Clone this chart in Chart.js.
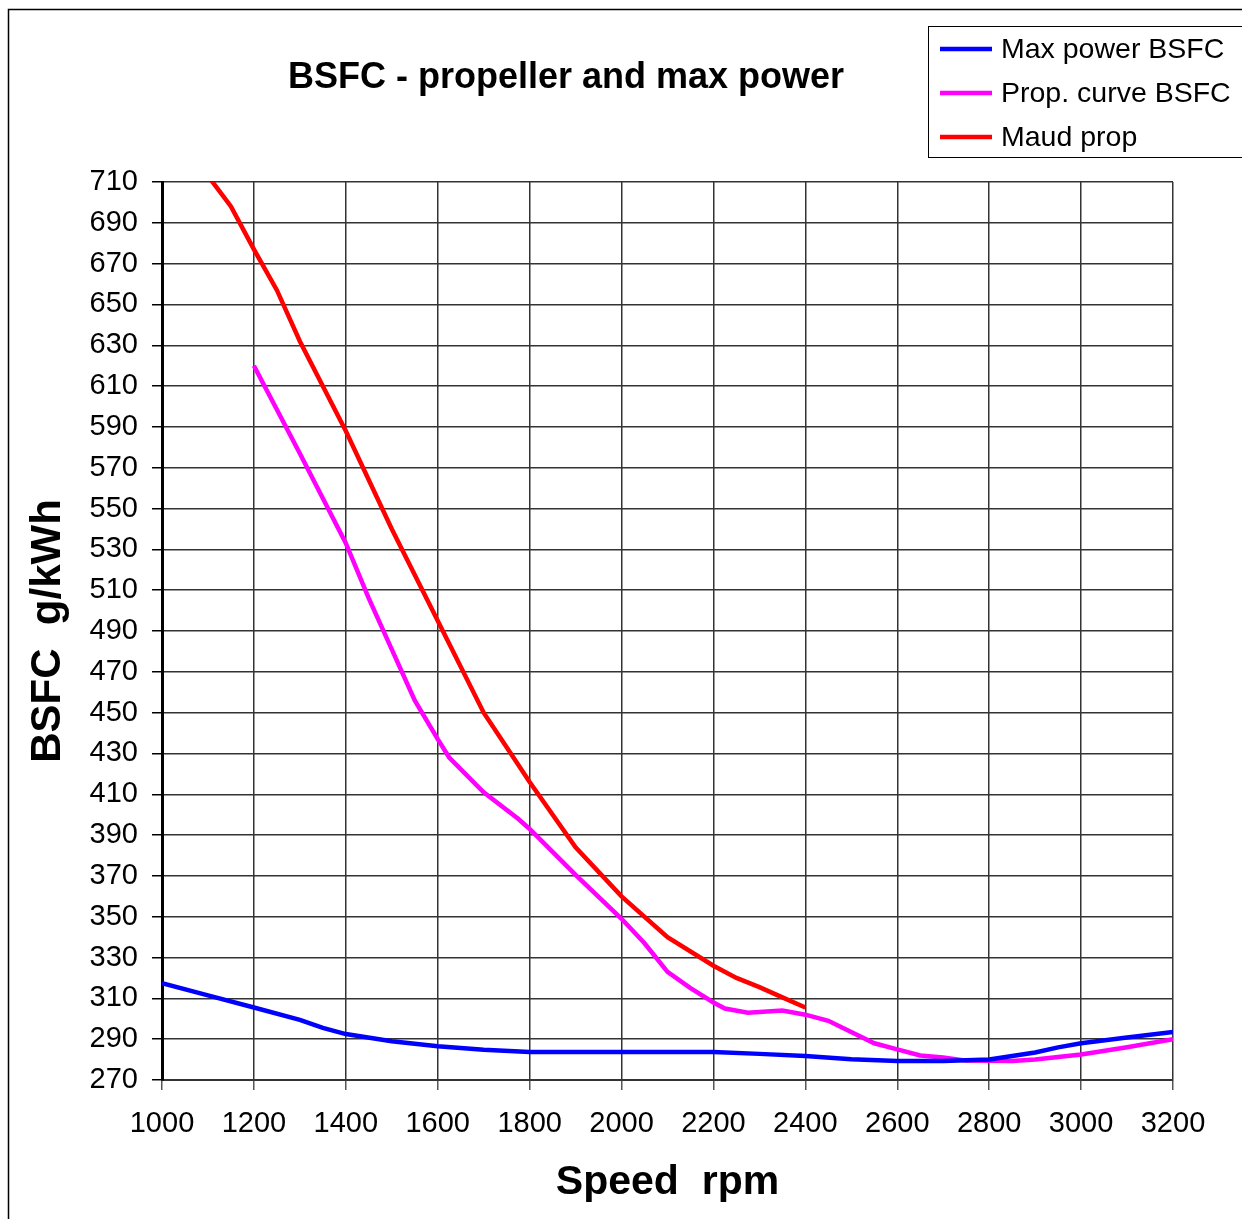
<!DOCTYPE html>
<html>
<head>
<meta charset="utf-8">
<script src="https://cdn.jsdelivr.net/npm/chart.js@4"></script>
<style>
  html, body { margin: 0; padding: 0; background: #fff; }
  #wrap { width: 1242px; height: 1219px; position: relative; }
</style>
</head>
<body>
<div id="wrap"><canvas id="bsfc" width="1242" height="1219"></canvas></div>
<script>
// values (rpm, g/kWh)
const maxPowerRpm  = [1000, 1100, 1200, 1300, 1350, 1400, 1500, 1600, 1700, 1800, 1900, 2000, 2100, 2200, 2300, 2400, 2500, 2600, 2700, 2800, 2900, 2950, 3000, 3100, 3200];
const maxPowerBsfc = [317.5, 311.5, 305.5, 299.5, 295.5, 292.5, 289, 286.5, 284.8, 283.7, 283.7, 283.7, 283.7, 283.7, 282.8, 281.8, 280.2, 279.3, 279.3, 280, 283.5, 286, 288, 290.8, 293.5];

const propRpm  = [1200, 1300, 1400, 1450, 1500, 1550, 1600, 1625, 1700, 1775, 1800, 1900, 2000, 2050, 2100, 2150, 2200, 2225, 2275, 2350, 2400, 2450, 2550, 2600, 2650, 2700, 2750, 2850, 2900, 3000, 3100, 3200];
const propBsfc = [620, 577, 533, 506, 481, 456, 437, 428, 411, 398, 393, 370.5, 349, 337, 323, 315, 308, 305, 303, 304, 302, 299, 288, 285, 282, 281, 279.5, 279.3, 280, 282.5, 286, 290];

const maudRpm  = [1100, 1150, 1200, 1250, 1300, 1400, 1500, 1600, 1700, 1750, 1800, 1900, 2000, 2100, 2200, 2250, 2300, 2350, 2400];
const maudBsfc = [713, 698, 677, 657, 632, 588, 540, 495, 450, 433, 416, 384, 360, 340, 326, 320, 315.5, 310.5, 305.5];

const xTicks = [1000, 1200, 1400, 1600, 1800, 2000, 2200, 2400, 2600, 2800, 3000, 3200];
const yTicks = [270, 290, 310, 330, 350, 370, 390, 410, 430, 450, 470, 490, 510, 530, 550, 570, 590, 610, 630, 650, 670, 690, 710];

const seriesNames = ["Max power BSFC", "Prop. curve BSFC", "Maud prop"];
const seriesColors = ["#0000ff", "#ff00ff", "#ff0000"];

const FONT = "'Liberation Sans', Arial, sans-serif";

function pts(xs, ys) {
  return xs.map((x, i) => ({ x: x, y: ys[i] }));
}

// title, outer frame and boxed legend
const decor = {
  id: "decor",
  afterDraw(chart) {
    const ctx = chart.ctx;
    ctx.save();
    ctx.strokeStyle = "#000";
    ctx.lineWidth = 1.5;
    ctx.beginPath();
    ctx.moveTo(8.5, 1219);
    ctx.lineTo(8.5, 9.5);
    ctx.lineTo(1242, 9.5);
    ctx.stroke();

    ctx.fillStyle = "#000";
    ctx.font = "bold 36px " + FONT;
    ctx.textAlign = "center";
    ctx.textBaseline = "middle";
    ctx.fillText("BSFC - propeller and max power", 566, 78);

    // legend
    ctx.fillStyle = "#fff";
    ctx.fillRect(928, 26, 320, 131);
    ctx.lineWidth = 1;
    ctx.strokeStyle = "#000";
    ctx.strokeRect(928.5, 26.5, 320, 131);
    ctx.font = "28.5px " + FONT;
    ctx.textAlign = "left";
    chart.data.datasets.forEach((ds, i) => {
      const y = 49 + i * 44;
      ctx.strokeStyle = ds.borderColor;
      ctx.lineWidth = 4.5;
      ctx.beginPath();
      ctx.moveTo(940, y);
      ctx.lineTo(992, y);
      ctx.stroke();
      ctx.fillStyle = "#000";
      ctx.fillText(ds.label, 1001, y + 1);
    });
    ctx.restore();
  }
};

const config = {
  type: "line",
  data: {
    datasets: [
      { label: seriesNames[0], data: pts(maxPowerRpm, maxPowerBsfc), borderColor: seriesColors[0] },
      { label: seriesNames[1], data: pts(propRpm, propBsfc), borderColor: seriesColors[1] },
      { label: seriesNames[2], data: pts(maudRpm, maudBsfc), borderColor: seriesColors[2] }
    ]
  },
  options: {
    responsive: false,
    animation: false,
    layout: { padding: { top: 182, right: 69, bottom: 0, left: 0 } },
    elements: {
      line: { borderWidth: 4.5, tension: 0, fill: false },
      point: { radius: 0 }
    },
    plugins: {
      legend: { display: false },
      title: { display: false },
      tooltip: { enabled: false }
    },
    scales: {
      x: {
        type: "linear",
        min: 1000,
        max: 3200,
        afterBuildTicks: (s) => { s.ticks = xTicks.map(v => ({ value: v })); },
        afterFit: (s) => { s.height = 139; },
        grid: { color: "#333", lineWidth: 1.5, tickLength: 10, tickColor: "#555" },
        border: { color: "#333", width: 2 },
        ticks: {
          color: "#000",
          padding: 17,
          maxRotation: 0,
          callback: (v) => String(v),
          font: { family: FONT, size: 29 }
        },
        title: {
          display: true,
          text: "Speed  rpm",
          color: "#000",
          padding: { top: 0, bottom: 12 },
          font: { family: FONT, size: 41, weight: "bold" }
        }
      },
      y: {
        type: "linear",
        min: 270,
        max: 710,
        afterBuildTicks: (s) => { s.ticks = yTicks.map(v => ({ value: v })); },
        afterFit: (s) => { s.width = 162; },
        grid: { color: "#333", lineWidth: 1.5, tickLength: 10, tickColor: "#000" },
        border: { color: "#000", width: 3 },
        ticks: {
          color: "#000",
          padding: 14,
          callback: (v) => String(v),
          font: { family: FONT, size: 29 }
        },
        title: {
          display: true,
          text: "BSFC  g/kWh",
          color: "#000",
          padding: { top: 23, bottom: 0 },
          font: { family: FONT, size: 42, weight: "bold" }
        }
      }
    }
  },
  plugins: [decor]
};

document.addEventListener("DOMContentLoaded", () => {
  const ctx = document.getElementById("bsfc");
  new Chart(ctx, config);
});
</script>
</body>
</html>
